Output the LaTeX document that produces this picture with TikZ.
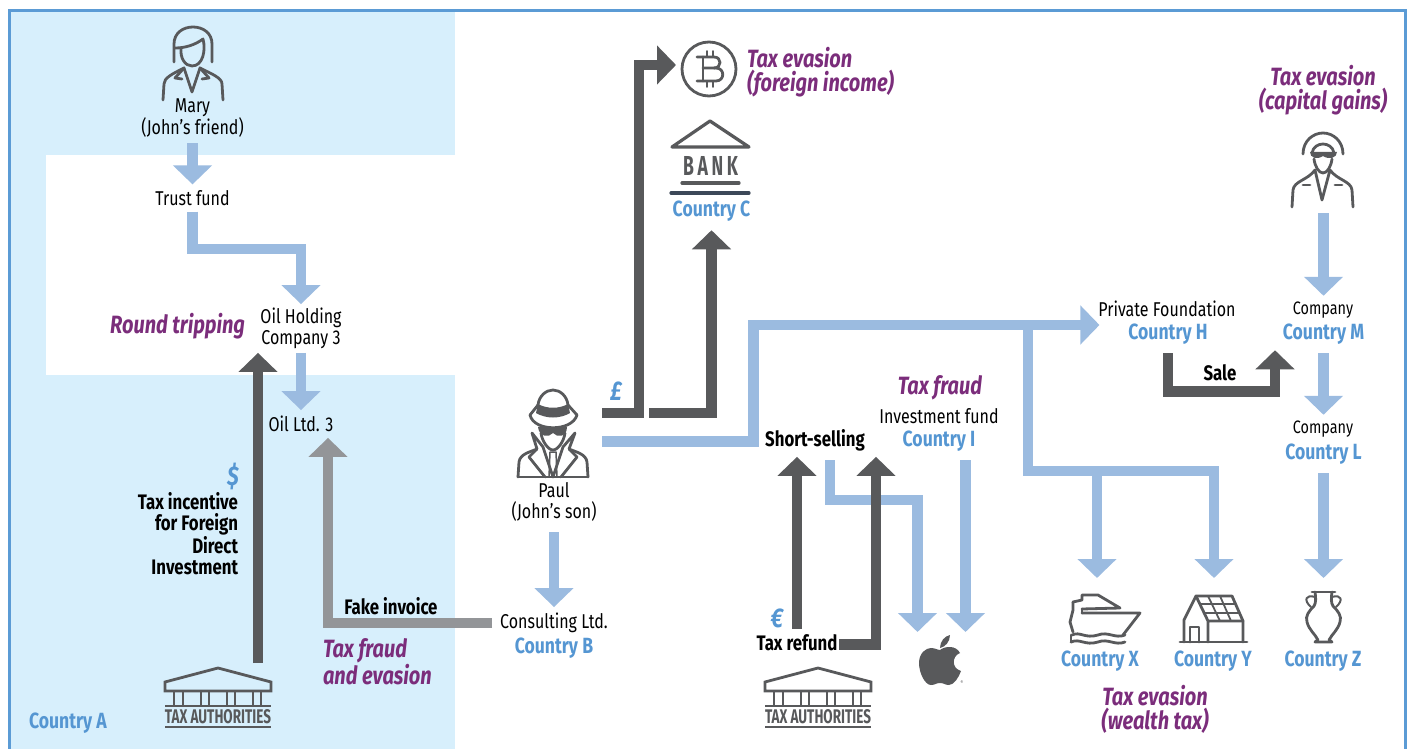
\documentclass[tikz,border=0pt]{standalone}
\usepackage{fontspec}
\usepackage{graphicx}
\setmainfont[FakeStretch=0.8]{Fira Sans}
\usetikzlibrary{arrows.meta}
\definecolor{panelblue}{HTML}{D7EFFC}
\definecolor{frameblue}{HTML}{5B9BD5}
\definecolor{flowblue}{HTML}{9BBBE0}
\definecolor{flowdark}{HTML}{58595B}
\definecolor{flowgrey}{HTML}{939598}
\definecolor{labelblue}{HTML}{5596D2}
\definecolor{labelpurple}{HTML}{7B2D7B}
\definecolor{banknavy}{HTML}{3C4858}
\tikzset{
  txt/.style={inner sep=0pt,outer ysep=6pt,outer xsep=2pt,align=center,font=\fontsize{20}{21}\selectfont},
  small/.style={txt,font=\fontsize{18}{21}\selectfont},
  strong/.style={txt,align=right,font=\fontsize{21}{21}\selectfont\bfseries},
  ctry/.style={txt,outer ysep=9pt,text=labelblue,font=\fontsize{22}{21}\selectfont\bfseries},
  crime/.style={txt,text=labelpurple,font=\fontsize{25}{24}\selectfont\bfseries\itshape},
  money/.style={txt,text=labelblue,font=\fontsize{27}{25}\selectfont\bfseries\itshape},
  flow/.style={line width=10.5pt,-{Triangle[length=19pt,width=38pt]}},
  blueflow/.style={flow,draw=flowblue},
  darkflow/.style={flow,draw=flowdark},
  greyflow/.style={flow,draw=flowgrey},
  icon/.style={draw=flowdark,line width=2.8pt,line cap=round,line join=round},
  taxbuilding/.pic={
    \draw[icon,line join=miter] (-53,14) -- (0,0) -- (53,14) -- (53,23) -- (-53,23) -- cycle;
    \draw[icon,line cap=butt] (-44,23) -- (-44,38) (-35,23) -- (-35,38) (-17,23) -- (-17,38) (-9,23) -- (-9,38);
    \draw[icon,line cap=butt] (9,23) -- (9,38) (17,23) -- (17,38) (35,23) -- (35,38) (43,23) -- (43,38);
    \draw[icon,line cap=butt] (-53,38) -- (53,38) (-53,59) -- (53,59);
    \node[inner sep=0pt,text=flowdark] (-name) at (0,49) {\resizebox{106pt}{14pt}{\bfseries TAX AUTHORITIES}};
  }
}
\begin{document}
\begin{tikzpicture}[x=1pt,y=-1pt]
\useasboundingbox (0,0) rectangle (1409,749);
\fill[panelblue] (9,11) rectangle (455,749);
\fill[white] (46,155) rectangle (455,375);
\draw[frameblue,line width=3pt] (9,11) rectangle (1405,770);

\node[txt] (mary) at (192.5,118) {Mary\\(John’s friend)};
\node[txt] (trust) at (192.5,198) {Trust fund};
\node[txt,outer ysep=4pt] (holding) at (301,328.5) {Oil Holding\\Company 3};
\node[txt] (oil) at (301,424) {Oil Ltd. 3};
\node[crime,anchor=east] (round) at (247,326) {Round tripping};
\node[money] (dollar) at (233,476) {\$};
\node[strong,anchor=east] (incentive) at (240,534) {Tax incentive\\for Foreign\\Direct\\Investment};
\node[strong] (fake) at (391,606) {Fake invoice};
\node[crime,anchor=west,align=left] (fraudevasion) at (321,662) {Tax fraud\\and evasion};
\node[ctry] (ctrya) at (68,723) {Country A};
\node[txt] (paul) at (554,502) {Paul\\(John’s son)};
\node[txt] (consulting) at (554,623) {Consulting Ltd.};
\node[ctry] (ctryb) at (554,648) {Country B};
\node[money] (pound) at (616,391) {£};
\node[crime,anchor=west,align=left] (foreign) at (745,72) {Tax evasion\\(foreign income)};
\node[ctry] (ctryc) at (711.5,211) {Country C};
\node[crime] (fraudi) at (940,388) {Tax fraud};
\node[txt] (fund) at (939,416) {Investment fund};
\node[ctry] (ctryi) at (939,441) {Country I};
\node[strong] (short) at (815,440) {Short-selling};
\node[money] (euro) at (777,618) {€};
\node[strong] (refund) at (797,643) {Tax refund};
\node[txt] (foundation) at (1167,309) {Private Foundation};
\node[ctry] (ctryh) at (1168,334) {Country H};
\node[strong] (sale) at (1220,373) {Sale};
\node[crime] (capital) at (1323,90) {Tax evasion\\(capital gains)};
\node[small] (companym) at (1323,310) {Company};
\node[ctry] (ctrym) at (1323.5,334) {Country M};
\node[small] (companyl) at (1323,429) {Company};
\node[ctry] (ctryl) at (1323.5,454) {Country L};
\node[ctry] (ctryx) at (1100,661) {Country X};
\node[ctry] (ctryy) at (1213,661) {Country Y};
\node[ctry] (ctryz) at (1323,661) {Country Z};
\node[crime] (wealth) at (1155,709) {Tax evasion\\(wealth tax)};
\node[inner sep=0pt,font=\fontsize{5}{5}\selectfont,text=flowdark] (registered) at (962,683) {®};

\coordinate (paulblue) at (602,441.5);
\coordinate (pauldark) at (602,413);
\coordinate (bankdark) at (649,413);
\coordinate (coinin) at (676,65);
\coordinate (bankup) at (711.5,413);
\coordinate (coinup) at (639,413);
\coordinate (coinbend) at (639,65);
\coordinate (hcorner) at (753.5,441.5);
\coordinate (hbend) at (753.5,325);
\coordinate (hjoint) at (1028,325);
\coordinate (hlow) at (1028,471);
\coordinate (boatjoint) at (1097,471);
\coordinate (housejoint) at (1214,471);
\coordinate (boatin) at (1097,578);
\coordinate (housein) at (1214,578);
\coordinate (urnin) at (1323.5,578);
\coordinate (spyout) at (1323.5,213);
\coordinate (salebend) at (1275,391.5);
\coordinate (trustbend) at (301,249);
\coordinate (taxout) at (258,663);
\coordinate (greybend) at (328,624);
\coordinate (shortout) at (830,460);
\coordinate (shortbend) at (917.5,500);
\coordinate (applea) at (917.5,632);
\coordinate (appleb) at (965.5,632);
\coordinate (refundup) at (876,644.5);

\draw[blueflow] (mary.south) -- (trust.north);
\draw[blueflow] (trust.south) |- (trustbend) -- (holding.north);
\draw[blueflow] (holding.south) -- (oil.north);
\draw[darkflow] (taxout) -- (taxout |- holding.south);
\draw[greyflow,shorten <=6pt] (consulting.west) -- (consulting.west -| greybend) -- (greybend |- oil.south);
\draw[blueflow,shorten <=5pt] (paul.south) -- (consulting.north);
\draw[darkflow] (pauldark) -- (coinup) -- (coinbend) -- (coinin);
\draw[darkflow] (bankdark) -- (bankup) -- (bankup |- ctryc.south);
\draw[blueflow,shorten >=-3pt] (paulblue) -- (hcorner) -- (hbend) -- (hbend -| foundation.west);
\draw[blueflow] (hjoint) -- (hlow) -- (housejoint) -- (housein);
\draw[blueflow] (boatjoint) -- (boatin);
\draw[blueflow] (ctryl.south -| urnin) -- (urnin);
\draw[blueflow] (spyout) -- (spyout |- companym.north);
\draw[blueflow] (ctrym.south) -- (ctrym.south |- companyl.north);
\draw[darkflow,shorten >=-3pt] (ctryh.south) |- (salebend) -- (salebend |- ctrym.south);
\draw[blueflow] (shortout) |- (shortbend) -- (applea);
\draw[blueflow] (ctryi.south -| appleb) -- (appleb);
\draw[darkflow] (refund.north) -- (refund.north |- short.south);
\draw[darkflow] (refund.east |- refundup) -- (refundup) -- (refundup |- short.south);

\pic (taxa) at (218,668) {taxbuilding};
\pic (taxb) at (818,668) {taxbuilding};

\draw[icon] (174,62) -- (174,44) .. controls (174,33) and (183,27) .. (193,27) .. controls (203,27) and (212,33) .. (212,44) -- (212,62);
\draw[icon] (175,48) .. controls (185,48) and (195,45) .. (203,39) .. controls (206,50) and (203,66) .. (192,66) .. controls (185,66) and (180,58) .. (181,48);
\draw[icon] (163,100) -- (164,84) .. controls (164,78) and (172,74) .. (184,68) -- (192,92) -- (200,68) .. controls (212,74) and (222,78) .. (222,84) -- (223,100);
\draw[icon] (184,68) -- (175,78) -- (182,79);
\draw[icon] (200,68) -- (209,78) -- (202,79);

\draw[icon] (538,405) -- (530,415) .. controls (534,432) and (572,432) .. (577,415) -- (568,405);
\draw[icon] (538,405) .. controls (539,396) and (546,390) .. (553,390) .. controls (560,390) and (567,396) .. (568,405);
\fill[flowdark] (538,404) .. controls (547,409) and (559,409) .. (568,404) -- (570,413) .. controls (560,419) and (546,419) .. (536,413) -- cycle;
\fill[flowdark] (538,427) .. controls (546,425) and (550,427) .. (553,429) .. controls (556,427) and (560,425) .. (567,427) .. controls (567,437) and (557,438) .. (553,433) .. controls (549,438) and (539,437) .. (538,427) -- cycle;
\draw[icon] (541,433) .. controls (542,441) and (548,450) .. (553,450) .. controls (558,450) and (564,441) .. (565,433);
\draw[icon] (518,477) -- (588,477);
\draw[icon] (518,477) -- (519,462) .. controls (520,454) and (530,452) .. (537,449) -- (532,433) -- (543,447) -- (553,477) -- (563,447) -- (575,433) -- (569,449) .. controls (576,452) and (586,454) .. (587,462) -- (588,477);
\draw[icon] (537,449) -- (529,457) -- (545,477);
\draw[icon] (569,449) -- (577,457) -- (561,477);
\draw[icon,line width=1.5pt] (550,452) -- (556,452) -- (557,477) (550,452) -- (549,477);

\draw[icon] (709,69) circle (27);
\draw[icon] (703,57) -- (703,81);
\draw[icon] (697,57) -- (714,57) .. controls (722,57) and (722,68) .. (714,68) -- (703,68);
\draw[icon] (714,68) -- (716,68) .. controls (725,68) and (725,81) .. (716,81) -- (697,81);
\draw[icon,line width=1.8pt] (707,51) -- (707,57) (713,51) -- (713,57) (707,81) -- (707,87) (713,81) -- (713,87);

\draw[icon,line width=3.2pt] (672,147) -- (710,121) -- (749,147) -- cycle;
\node[inner sep=0pt,text=flowdark] (banklabel) at (710.5,165.5) {\resizebox{55pt}{19pt}{\bfseries B\,A\,N\,K}};
\draw[icon,line width=3.2pt] (682,183) -- (739,183);
\draw[icon,draw=banknavy,line width=3.2pt] (671,193) -- (749,193);

\fill[flowdark] (940,650) .. controls (945,646) and (956,645) .. (960,653) .. controls (952,656) and (951,668) .. (961,671) .. controls (959,677) and (954,685) .. (949,685) .. controls (945,685) and (944,683) .. (940,683) .. controls (936,683) and (935,685) .. (931,685) .. controls (925,685) and (919,673) .. (919,663) .. controls (919,653) and (926,648) .. (931,648) .. controls (935,648) and (938,650) .. (940,650) -- cycle;
\fill[flowdark] (940,648) .. controls (940,641) and (945,636) .. (950,635) .. controls (950,642) and (945,647) .. (940,648) -- cycle;

\draw[icon] (1073,602) -- (1082,600) -- (1082,595) -- (1098,595) -- (1120,608) -- (1082,609);
\draw[icon] (1082,613) -- (1140,613) -- (1123,635);
\draw[icon] (1082,609) -- (1082,613);
\draw[icon] (1073,602) -- (1073,610) -- (1070,622) -- (1073,632);
\draw[icon] (1072,635) .. controls (1080,631) and (1085,639) .. (1098,635) .. controls (1108,631) and (1115,639) .. (1125,635);
\draw[icon] (1071,642) .. controls (1080,638) and (1085,646) .. (1098,642) .. controls (1108,638) and (1115,646) .. (1125,642);
\draw[icon] (1071,635) -- (1071,642);

\draw[icon] (1180,642) -- (1247,642);
\draw[icon] (1184,642) -- (1184,620) -- (1196,596) -- (1232,596) -- (1243,621) -- (1243,642);
\draw[icon] (1196,596) -- (1208,621) -- (1243,621) (1208,621) -- (1208,642);
\draw[icon] (1190,642) -- (1190,627) -- (1199,627) -- (1199,642);
\draw[icon,line width=1.8pt] (1208,596) -- (1220,621) (1220,596) -- (1231,621) (1200,604) -- (1236,604) (1204,613) -- (1239,613);

\draw[icon] (1312,592) -- (1335,592);
\draw[icon] (1315,592) .. controls (1316,598) and (1316,603) .. (1314,606) .. controls (1309,611) and (1305,616) .. (1307,622) .. controls (1309,630) and (1315,634) .. (1318,640) -- (1315,642) -- (1332,642) -- (1329,640) .. controls (1332,634) and (1338,630) .. (1340,622) .. controls (1342,616) and (1338,611) .. (1333,606) .. controls (1331,603) and (1331,598) .. (1332,592);
\draw[icon,line width=2pt] (1315,597) .. controls (1306,594) and (1303,600) .. (1311,607);
\draw[icon,line width=2pt] (1332,597) .. controls (1341,594) and (1344,600) .. (1336,607);

\draw[icon] (1303,154) .. controls (1303,141) and (1313,133) .. (1323,133) .. controls (1333,133) and (1343,141) .. (1343,154);
\draw[icon] (1312,153) .. controls (1313,147) and (1318,144) .. (1323,144) .. controls (1328,144) and (1333,147) .. (1334,153);
\fill[flowdark] (1310,152) -- (1337,152) .. controls (1337,158) and (1329,160) .. (1323,156) .. controls (1317,160) and (1310,158) .. (1310,152) -- cycle;
\draw[icon] (1314,159) .. controls (1315,167) and (1319,173) .. (1323,173) .. controls (1327,173) and (1331,167) .. (1332,159);
\draw[icon] (1292,207) -- (1293,190) .. controls (1294,181) and (1308,180) .. (1315,170) -- (1322,200) -- (1330,170) .. controls (1337,180) and (1351,181) .. (1352,190) -- (1353,207);
\draw[icon] (1303,185) -- (1310,185) (1335,185) -- (1342,185);
\end{tikzpicture}
\end{document}
